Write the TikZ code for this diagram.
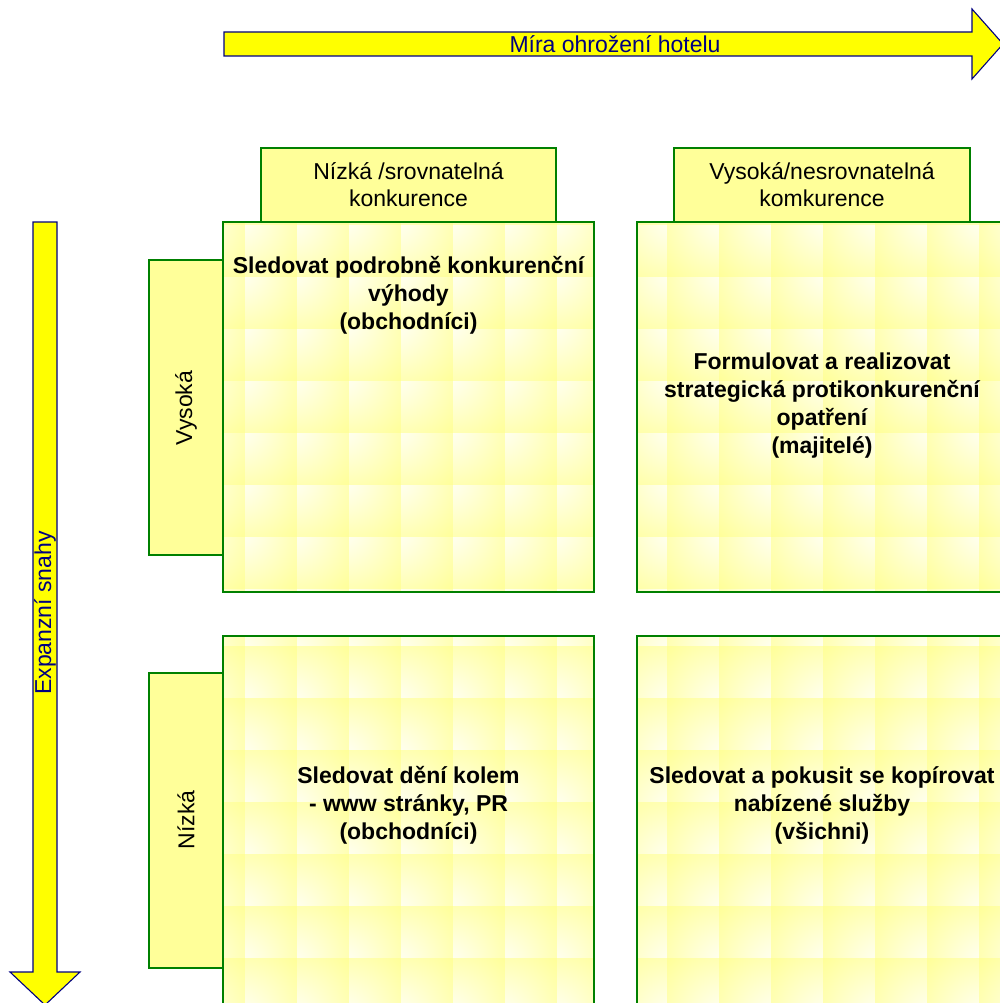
\documentclass[tikz,border=0pt]{standalone}
\usepackage{fontspec}
\setmainfont{Liberation Sans}
\definecolor{arrowY}{RGB}{255,255,0}
\definecolor{arrowB}{RGB}{0,0,128}
\definecolor{boxY}{RGB}{255,255,153}
\definecolor{boxG}{RGB}{0,128,0}
\definecolor{tileY}{RGB}{255,255,140}
\definecolor{tileW}{RGB}{255,255,250}
\pgfdeclareradialshading{tileTL}{\pgfpoint{-42bp}{42bp}}{color(0bp)=(tileW); color(10bp)=(tileW); color(75bp)=(tileY); color(150bp)=(tileY)}
\pgfdeclareradialshading{tileTR}{\pgfpoint{42bp}{42bp}}{color(0bp)=(tileW); color(10bp)=(tileW); color(75bp)=(tileY); color(150bp)=(tileY)}
\pgfdeclareradialshading{tileBL}{\pgfpoint{-42bp}{-42bp}}{color(0bp)=(tileW); color(10bp)=(tileW); color(75bp)=(tileY); color(150bp)=(tileY)}
\pgfdeclareradialshading{tileBR}{\pgfpoint{42bp}{-42bp}}{color(0bp)=(tileW); color(10bp)=(tileW); color(75bp)=(tileY); color(150bp)=(tileY)}
\tikzset{
  bigarrow/.style={fill=arrowY, draw=arrowB, line width=1.1pt, line join=miter},
  arrowtext/.style={text=arrowB, font=\fontsize{23}{27}\selectfont, inner sep=0pt},
  hdrbox/.style={fill=boxY, draw=boxG, line width=1.5pt},
  hdrtext/.style={text=black, font=\fontsize{23}{27}\selectfont, align=center, inner sep=0pt},
  quadframe/.style={draw=boxG, line width=1.5pt},
  quadtext/.style={text=black, font=\bfseries\fontsize{23}{28}\selectfont, align=center, inner sep=0pt},
}
\begin{document}
\begin{tikzpicture}[x=1pt,y=-1pt]
\useasboundingbox (0,0) rectangle (1000,1003);
\clip (0,0) rectangle (1000,1003);
% top arrow
\draw[bigarrow] (224,32) -- (972,32) -- (972,9) -- (1003,44) -- (972,79) -- (972,56) -- (224,56) -- cycle;
\node[arrowtext] (mira) at (615,44) {Míra ohrožení hotelu};
% left arrow
\draw[bigarrow] (33,222) -- (57,222) -- (57,972) -- (80,972) -- (45,1005) -- (10,972) -- (33,972) -- cycle;
\node[arrowtext, rotate=90] (exp) at (45,613) {Expanzní snahy};
% header boxes
\draw[hdrbox] (261,148) rectangle (556,222);
\node[hdrtext] (h1) at (408.5,185) {Nízká /srovnatelná\\konkurence};
\draw[hdrbox] (674,148) rectangle (970,222);
\node[hdrtext] (h2) at (822,185) {Vysoká/nesrovnatelná\\komkurence};
% side boxes
\draw[hdrbox] (149,260) rectangle (223,555);
\node[hdrtext, rotate=90] (s1) at (186,408) {Vysoká};
\draw[hdrbox] (149,673) rectangle (223,968);
\node[hdrtext, rotate=90] (s2) at (186,820) {Nízká};
% quadrants: tiles
\begin{scope}
\clip (223,222) rectangle (594,592);
\foreach \i in {0,...,8}{\foreach \j in {0,...,8}{
  \shade[shading=tileTL] ({193+52*\i},{173+52*\j}) rectangle +(52,52);}}
\end{scope}
\begin{scope}
\clip (637,222) rectangle (1005,592);
\foreach \i in {0,...,8}{\foreach \j in {0,...,8}{
  \shade[shading=tileTR] ({615+52*\i},{173+52*\j}) rectangle +(52,52);}}
\end{scope}
\begin{scope}
\clip (223,636) rectangle (594,1008);
\foreach \i in {0,...,8}{\foreach \j in {0,...,8}{
  \shade[shading=tileBL] ({193+52*\i},{594+52*\j}) rectangle +(52,52);}}
\end{scope}
\begin{scope}
\clip (637,636) rectangle (1005,1008);
\foreach \i in {0,...,8}{\foreach \j in {0,...,8}{
  \shade[shading=tileBR] ({615+52*\i},{594+52*\j}) rectangle +(52,52);}}
\end{scope}
\draw[quadframe] (223,222) rectangle (594,592);
\draw[quadframe] (637,222) rectangle (1010,592);
\draw[quadframe] (223,636) rectangle (594,1010);
\draw[quadframe] (637,636) rectangle (1010,1010);
% quadrant texts
\node[quadtext] (q1) at (408.5,295) {Sledovat podrobně konkurenční\\výhody\\(obchodníci)};
\node[quadtext] (q2) at (822,406) {Formulovat a realizovat\\strategická protikonkurenční\\opatření\\(majitelé)};
\node[quadtext] (q3) at (408.5,805) {Sledovat dění kolem\\- www stránky, PR\\(obchodníci)};
\node[quadtext] (q4) at (822,805) {Sledovat a pokusit se kopírovat\\nabízené služby\\(všichni)};
\end{tikzpicture}
\end{document}
